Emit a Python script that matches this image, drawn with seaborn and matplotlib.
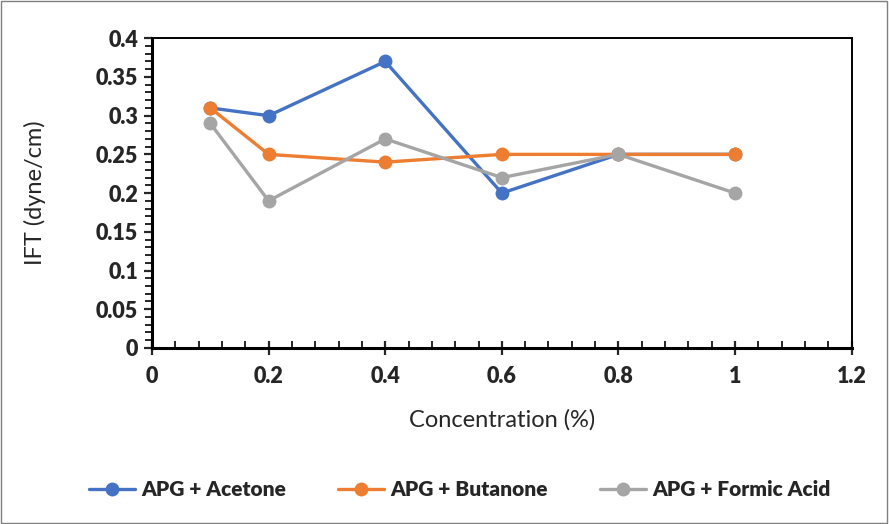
import matplotlib
matplotlib.use("Agg")
import matplotlib.pyplot as plt
from matplotlib.ticker import MultipleLocator
import seaborn as sns
import pandas as pd

concentration = [0.1, 0.2, 0.4, 0.6, 0.8, 1.0]
acetone = [0.31, 0.30, 0.37, 0.20, 0.25, 0.25]
butanone = [0.31, 0.25, 0.24, 0.25, 0.25, 0.25]
formic_acid = [0.29, 0.19, 0.27, 0.22, 0.25, 0.20]
series_names = ["APG + Acetone", "APG + Butanone", "APG + Formic Acid"]
colors = ["#4472C4", "#ED7D31", "#A5A5A5"]
x_ticks = [0, 0.2, 0.4, 0.6, 0.8, 1.0, 1.2]
x_tick_labels = ["0", "0.2", "0.4", "0.6", "0.8", "1", "1.2"]
y_ticks = [0, 0.05, 0.1, 0.15, 0.2, 0.25, 0.3, 0.35, 0.4]
y_tick_labels = ["0", "0.05", "0.1", "0.15", "0.2", "0.25", "0.3", "0.35", "0.4"]

frames = []
for name, vals in zip(series_names, [acetone, butanone, formic_acid]):
    frames.append(pd.DataFrame({"Concentration": concentration, "IFT": vals, "Series": name}))
df = pd.concat(frames, ignore_index=True)

sns.set_theme(style="white")
plt.rcParams["font.family"] = ["Lato", "DejaVu Sans"]

fig = plt.figure(figsize=(8.89, 5.24), dpi=100)
ax = fig.add_axes([0.171, 0.336, 0.787, 0.591])

sns.lineplot(data=df, x="Concentration", y="IFT", hue="Series", hue_order=series_names,
             palette=colors, marker="o", markersize=10, linewidth=2.4,
             markeredgewidth=0, ax=ax, legend=True)

ax.set_xlim(0, 1.2)
ax.set_ylim(0, 0.4)
ax.set_xticks(x_ticks)
ax.set_xticklabels(x_tick_labels)
ax.set_yticks(y_ticks)
ax.set_yticklabels(y_tick_labels)
ax.xaxis.set_minor_locator(MultipleLocator(0.04))
ax.yaxis.set_minor_locator(MultipleLocator(0.01))

for sp in ax.spines.values():
    sp.set_color("black")
    sp.set_linewidth(1.4)
ax.spines["left"].set_linewidth(2.2)
ax.spines["bottom"].set_linewidth(2.2)

ax.tick_params(axis="x", which="major", direction="inout", length=10, width=1.6,
               bottom=True, labelsize=15.5, pad=8)
ax.tick_params(axis="x", which="minor", direction="in", length=5, width=1.4, bottom=True)
ax.tick_params(axis="y", which="major", direction="out", length=6, width=1.6,
               left=True, labelsize=15.5, pad=4)
ax.tick_params(axis="y", which="minor", direction="out", length=5, width=1.4, left=True)
for lab in ax.get_xticklabels() + ax.get_yticklabels():
    lab.set_fontweight("heavy")

ax.set_xlabel("Concentration (%)", fontsize=17)
ax.set_ylabel("IFT (dyne/cm)", fontsize=17)
ax.xaxis.set_label_coords(0.5, -0.198)
ax.yaxis.set_label_coords(-0.152, 0.5)

handles, labels = ax.get_legend_handles_labels()
ax.get_legend().remove()
fig.legend(handles, labels, loc="center", bbox_to_anchor=(0.517, 0.066), ncol=3,
           frameon=False, prop={"weight": "heavy", "size": 15}, handlelength=2.2,
           columnspacing=2.5, handletextpad=0.3)

fig.patches.append(plt.Rectangle((0.001, 0.001), 0.997, 0.997, transform=fig.transFigure,
                                 fill=False, edgecolor="#7f7f7f", linewidth=1.0))

fig.savefig("out.png", dpi=100, facecolor="white")
